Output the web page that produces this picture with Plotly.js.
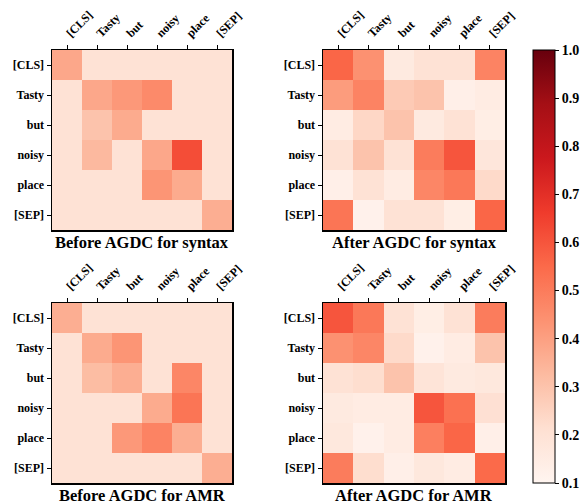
<!DOCTYPE html>
<html><head><meta charset="utf-8">
<script src="https://cdn.plot.ly/plotly-3.0.1.min.js"></script>
<style>html,body{margin:0;padding:0;background:#fff}</style>
</head><body><div id="chart" style="width:588px;height:504px"></div>
<script>
const tokens = ["[CLS]", "Tasty", "but", "noisy", "place", "[SEP]"];
const titles = ["Before AGDC for syntax", "After AGDC for syntax", "Before AGDC for AMR", "After AGDC for AMR"];

const beforeSyntax = [
  [0.38, 0.20, 0.20, 0.20, 0.20, 0.20],
  [0.20, 0.38, 0.42, 0.46, 0.20, 0.20],
  [0.20, 0.30, 0.37, 0.20, 0.20, 0.20],
  [0.20, 0.33, 0.20, 0.38, 0.62, 0.20],
  [0.20, 0.20, 0.20, 0.43, 0.37, 0.20],
  [0.20, 0.20, 0.20, 0.20, 0.20, 0.36]
];
const afterSyntax = [
  [0.56, 0.44, 0.16, 0.20, 0.20, 0.48],
  [0.41, 0.48, 0.28, 0.30, 0.13, 0.15],
  [0.15, 0.24, 0.30, 0.16, 0.20, 0.14],
  [0.20, 0.30, 0.20, 0.50, 0.60, 0.18],
  [0.13, 0.20, 0.15, 0.47, 0.51, 0.23],
  [0.52, 0.12, 0.20, 0.20, 0.14, 0.56]
];
const beforeAMR = [
  [0.36, 0.20, 0.20, 0.20, 0.20, 0.20],
  [0.20, 0.37, 0.43, 0.20, 0.20, 0.20],
  [0.20, 0.32, 0.36, 0.20, 0.47, 0.20],
  [0.20, 0.20, 0.20, 0.37, 0.52, 0.20],
  [0.20, 0.20, 0.42, 0.48, 0.36, 0.20],
  [0.20, 0.20, 0.20, 0.20, 0.20, 0.36]
];
const afterAMR = [
  [0.60, 0.51, 0.20, 0.14, 0.20, 0.50],
  [0.44, 0.47, 0.23, 0.12, 0.15, 0.30],
  [0.20, 0.22, 0.30, 0.19, 0.16, 0.17],
  [0.16, 0.15, 0.15, 0.60, 0.53, 0.21],
  [0.17, 0.12, 0.15, 0.49, 0.56, 0.13],
  [0.50, 0.22, 0.13, 0.17, 0.15, 0.55]
];
const colorTicks = [0.1, 0.2, 0.3, 0.4, 0.5, 0.6, 0.7, 0.8, 0.9, 1.0];

const reds = [
  [0, "#fff5f0"], [0.125, "#fee0d2"], [0.25, "#fcbba1"], [0.375, "#fc9272"],
  [0.5, "#fb6a4a"], [0.625, "#ef3b2c"], [0.75, "#cb181d"], [0.875, "#a50f15"], [1, "#67000d"]
];
const W = 588, H = 504;
const fam = "Liberation Serif, Times New Roman, serif";
const mats = [beforeSyntax, afterSyntax, beforeAMR, afterAMR];
const xdoms = [[52/W, 232/W], [323/W, 505/W], [52/W, 232/W], [323/W, 505/W]];
const ydoms = [[1-230/H, 1-50/H], [1-230/H, 1-50/H], [1-483/H, 1-303/H], [1-483/H, 1-303/H]];
const idx = tokens.map((_, k) => k);
const boldTok = tokens.map(t => "<b>" + t + "</b>");

const data = [];
const layout = {
  width: W, height: H, margin: {l: 0, r: 0, t: 0, b: 0},
  paper_bgcolor: "#fff", plot_bgcolor: "#fff", showlegend: false,
  font: {family: fam, color: "#000"}, annotations: []
};
mats.forEach((m, i) => {
  const s = i === 0 ? "" : String(i + 1);
  data.push({
    type: "heatmap", z: m, x: idx, y: idx,
    xaxis: "x" + s, yaxis: "y" + s,
    colorscale: reds, zmin: 0.1, zmax: 1.0,
    showscale: i === 0, xgap: 0, ygap: 0,
    colorbar: {
      x: 533/W, xanchor: "left", xpad: 0, y: 1-483/H, yanchor: "bottom", ypad: 0,
      len: 433, lenmode: "pixels", thickness: 22, thicknessmode: "pixels",
      outlinecolor: "#000", outlinewidth: 1,
      tickvals: colorTicks, ticktext: colorTicks.map(v => "<b>" + v.toFixed(1) + "</b>"),
      ticks: "outside", ticklen: 4, tickcolor: "#000",
      tickfont: {family: fam, size: 14, color: "#000"}
    }
  });
  const axFont = {family: fam, size: 12, color: "#000"};
  layout["xaxis" + s] = {
    domain: xdoms[i], anchor: "y" + s, side: "top", tickangle: -45,
    tickvals: idx, ticktext: boldTok, range: [-0.5, 5.5],
    ticks: "outside", ticklen: 4, tickcolor: "#000", tickfont: axFont,
    showline: true, linecolor: "#000", linewidth: 1.5, mirror: true,
    showgrid: false, zeroline: false, fixedrange: true
  };
  layout["yaxis" + s] = {
    domain: ydoms[i], anchor: "x" + s, range: [5.5, -0.5],
    tickvals: idx, ticktext: boldTok,
    ticks: "outside", ticklen: 4, tickcolor: "#000", tickfont: axFont,
    showline: true, linecolor: "#000", linewidth: 1.5, mirror: true,
    showgrid: false, zeroline: false, fixedrange: true
  };
  layout.annotations.push({
    text: "<b>" + titles[i] + "</b>", xref: "paper", yref: "paper",
    x: (xdoms[i][0] + xdoms[i][1]) / 2, y: ydoms[i][0] - 1/H,
    xanchor: "center", yanchor: "top", showarrow: false,
    font: {family: fam, size: 16.5, color: "#000"}
  });
});
Plotly.newPlot("chart", data, layout, {displayModeBar: false, staticPlot: true});
</script></body></html>
